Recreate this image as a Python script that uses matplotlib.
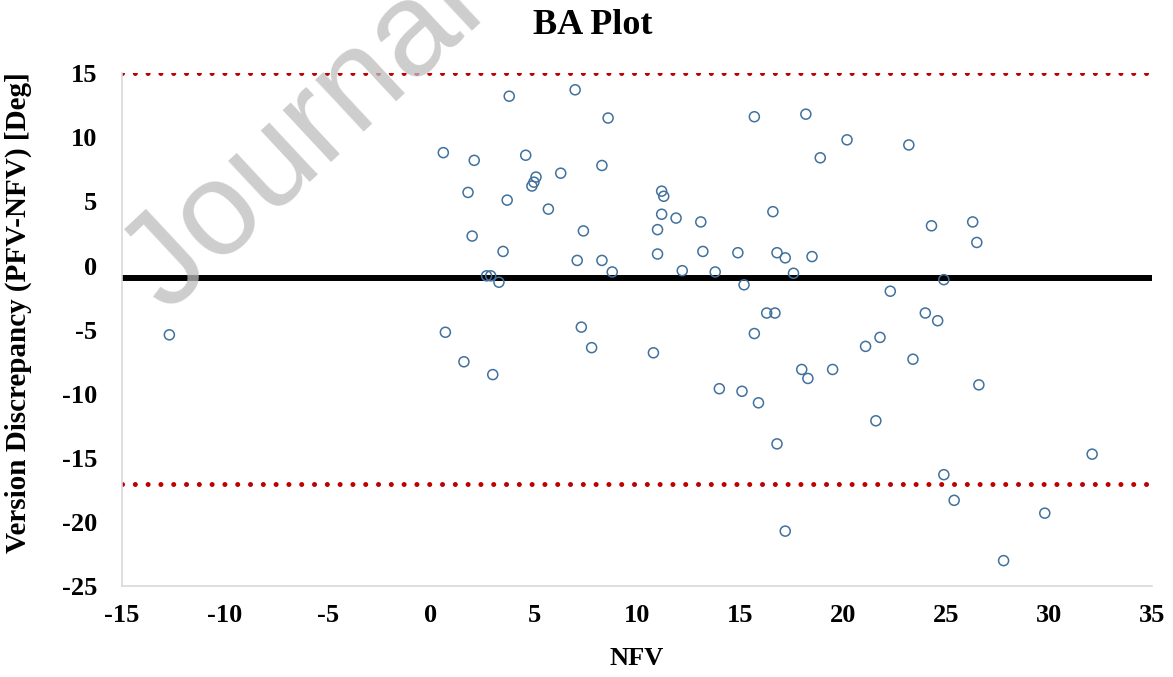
import matplotlib
matplotlib.use('Agg')
import matplotlib.pyplot as plt

# NFV (x) and PFV-NFV discrepancy (y)
nfv = [-12.7, 0.6, 0.7, 1.6, 1.8, 2.1, 2.0, 2.7, 2.9, 3.0,
       3.3, 3.5, 3.8, 3.7, 4.6, 4.9, 5.0, 5.1, 5.7, 6.3,
       7.0, 7.4, 7.1, 7.3, 7.8, 8.3, 8.3, 8.6, 8.8, 10.8,
       11.0, 11.0, 11.2, 11.3, 11.2, 11.9, 12.2, 13.1, 13.2, 13.8,
       14.0, 14.9, 15.2, 15.1, 15.7, 15.7, 15.9, 16.3, 16.7, 16.6,
       16.8, 16.8, 17.2, 17.6, 17.2, 18.0, 18.2, 18.3, 18.5, 18.9,
       19.5, 20.2, 21.1, 21.6, 21.8, 22.3, 23.2, 23.4, 24.0, 24.3,
       24.6, 24.9, 24.9, 25.4, 26.3, 26.5, 26.6, 27.8, 29.8, 32.1]
diff = [-5.4, 8.8, -5.2, -7.5, 5.7, 8.2, 2.3, -0.8, -0.8, -8.5,
        -1.3, 1.1, 13.2, 5.1, 8.6, 6.2, 6.5, 6.9, 4.4, 7.2,
        13.7, 2.7, 0.4, -4.8, -6.4, 7.8, 0.4, 11.5, -0.5, -6.8,
        0.9, 2.8, 5.8, 5.4, 4.0, 3.7, -0.4, 3.4, 1.1, -0.5,
        -9.6, 1.0, -1.5, -9.8, 11.6, -5.3, -10.7, -3.7, -3.7, 4.2,
        1.0, -13.9, 0.6, -0.6, -20.7, -8.1, 11.8, -8.8, 0.7, 8.4,
        -8.1, 9.8, -6.3, -12.1, -5.6, -2.0, 9.4, -7.3, -3.7, 3.1,
        -4.3, -1.1, -16.3, -18.3, 3.4, 1.8, -9.3, -23.0, -19.3, -14.7]

mean_diff = -1.0
upper_loa = 15.0
lower_loa = -17.0

x_ticks = [-15, -10, -5, 0, 5, 10, 15, 20, 25, 30, 35]
y_ticks = [-25, -20, -15, -10, -5, 0, 5, 10, 15]

plt.rcParams['font.family'] = ['Liberation Serif', 'DejaVu Serif']
plt.rcParams['axes.unicode_minus'] = False

fig = plt.figure(figsize=(11.73, 6.77), dpi=100)
ax = fig.add_axes([0.104, 0.134, 0.878, 0.758])

ax.axhline(mean_diff, color='black', linewidth=4.3, zorder=2)
for lim in (upper_loa, lower_loa):
    ax.axhline(lim, color='#C00000', linewidth=3.6, linestyle=(0, (0.01, 2.55)),
               dash_capstyle='round', zorder=2)

ax.scatter(nfv, diff, s=52, facecolors='none', edgecolors='#41719C',
           linewidths=1.1, zorder=3)

ax.set_xlim(-15, 35)
ax.set_ylim(-25, 15)
ax.set_xticks(x_ticks)
ax.set_yticks(y_ticks)
ax.tick_params(axis='both', length=0, labelsize=19)
ax.tick_params(axis='x', pad=13)
ax.tick_params(axis='y', pad=18)
for lbl in ax.get_xticklabels() + ax.get_yticklabels():
    lbl.set_fontweight('bold')

for side in ('top', 'right'):
    ax.spines[side].set_visible(False)
for side in ('left', 'bottom'):
    ax.spines[side].set_color('#D9D9D9')
    ax.spines[side].set_linewidth(1.2)

ax.set_xlabel('NFV', fontsize=19, fontweight='bold', labelpad=14)
ax.set_ylabel('Version Discrepancy (PFV-NFV) [Deg]', fontsize=21,
              fontweight='bold')
ax.yaxis.set_label_coords(-0.087, 0.534)
fig.text(0.505, 0.962, 'BA Plot', ha='center', va='center',
         fontsize=26, fontweight='bold')

# watermark
fig.text(0.143, 0.535, 'Journal Pre-proof', fontsize=96, family='Liberation Sans',
         color='#BDBDBD', alpha=0.75, rotation=43, rotation_mode='anchor',
         ha='left', va='baseline', zorder=10)

fig.savefig('out.png', dpi=100)
